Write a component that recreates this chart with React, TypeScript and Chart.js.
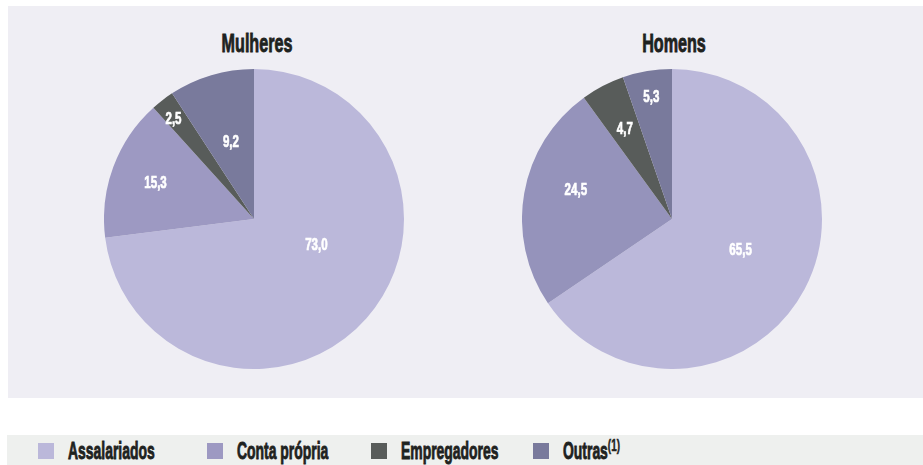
import React, { useEffect, useRef } from "react";
import { Chart, registerables } from "chart.js";

Chart.register(...registerables);

// ---- data ----
const categories = ["Assalariados", "Conta própria", "Empregadores", "Outras"];
const mulheresValues = [73.0, 15.3, 2.5, 9.2];
const homensValues = [65.5, 24.5, 4.7, 5.3];
const chartTitles = ["Mulheres", "Homens"];
const legendNote = "(1)";

// ---- styles ----
const sliceColors = ["#bbb8da", "#9d99c2", "#585c5a", "#797a9c"];
const sliceColorsHomens = ["#bbb8da", "#9593bb", "#585c5a", "#797a9c"];
const FONT = "'Liberation Sans', Arial, sans-serif";
const TEXT_DARK = "#1e2220";

const fmt = (v: number) => v.toFixed(1).replace(".", ",");

const sliceLabelPlugin = {
  id: "sliceLabels",
  afterDatasetsDraw(chart: any, _args: any, opts: any) {
    const ctx = chart.ctx as CanvasRenderingContext2D;
    const meta = chart.getDatasetMeta(0);
    const data = chart.data.datasets[0].data as number[];
    meta.data.forEach((arc: any, i: number) => {
      const p = arc.getProps(["x", "y", "startAngle", "endAngle", "outerRadius"], true);
      const mid = (p.startAngle + p.endAngle) / 2 + ((opts.shift?.[i] || 0) * Math.PI) / 180;
      const r = p.outerRadius * (opts.radius?.[i] ?? 0.6);
      const px = p.x + Math.cos(mid) * r;
      const py = p.y + Math.sin(mid) * r;
      ctx.save();
      ctx.translate(px, py);
      ctx.scale(0.68, 1);
      ctx.font = `bold 17px ${FONT}`;
      ctx.fillStyle = "#ffffff";
      ctx.strokeStyle = "#ffffff";
      ctx.lineWidth = 0.7;
      ctx.textAlign = "center";
      ctx.textBaseline = "middle";
      ctx.fillText(fmt(data[i]), 0, 1);
      ctx.strokeText(fmt(data[i]), 0, 1);
      ctx.restore();
    });
  },
};

function PieChart(props: {
  values: number[];
  colors: string[];
  labelRadius: number[];
  labelShift: number[];
  style: React.CSSProperties;
}) {
  const ref = useRef<HTMLCanvasElement | null>(null);
  useEffect(() => {
    if (!ref.current) return;
    const chart = new Chart(ref.current, {
      type: "pie",
      data: {
        labels: categories,
        datasets: [
          {
            data: props.values,
            backgroundColor: props.colors,
            borderWidth: 0,
            hoverOffset: 0,
            offset: 0,
          },
        ],
      },
      options: {
        responsive: false,
        animation: false,
        layout: { padding: 0 },
        events: [],
        plugins: {
          legend: { display: false },
          tooltip: { enabled: false },
          title: { display: false },
          sliceLabels: { radius: props.labelRadius, shift: props.labelShift },
        } as any,
      },
      plugins: [sliceLabelPlugin as any],
    });
    return () => chart.destroy();
  }, []);
  return <canvas ref={ref} width={300} height={300} style={{ position: "absolute", ...props.style }} />;
}

function Title({ text, cx }: { text: string; cx: number }) {
  return (
    <div
      style={{
        position: "absolute",
        left: cx,
        top: 30,
        fontFamily: FONT,
        fontWeight: "bold",
        fontSize: 26,
        lineHeight: "26px",
        color: TEXT_DARK,
        whiteSpace: "nowrap",
        WebkitTextStroke: `0.9px ${TEXT_DARK}`,
        transform: "translateX(-50%) scaleX(0.62)",
      }}
    >
      {text}
    </div>
  );
}

const legendX = [38, 207, 371, 533];

export default function App() {
  return (
    <div
      style={{
        position: "absolute",
        left: 0,
        top: 0,
        width: 923,
        height: 465,
        overflow: "hidden",
        background: "#ffffff",
      }}
    >
      <div
        style={{
          position: "absolute",
          left: 8,
          top: 6,
          width: 915,
          height: 392,
          background: "#efeef4",
        }}
      />
      <Title text={chartTitles[0]} cx={257} />
      <Title text={chartTitles[1]} cx={674} />
      <PieChart
        values={mulheresValues}
        colors={sliceColors}
        labelRadius={[0.45, 0.7, 0.86, 0.54]}
        labelShift={[-19, 0, -1, 0]}
        style={{ left: 104, top: 69 }}
      />
      <PieChart
        values={homensValues}
        colors={sliceColorsHomens}
        labelRadius={[0.5, 0.67, 0.68, 0.83]}
        labelShift={[-4, 7, 0, 0]}
        style={{ left: 522, top: 69 }}
      />
      <div
        style={{
          position: "absolute",
          left: 7,
          top: 435,
          width: 916,
          height: 30,
          background: "#eef0ee",
        }}
      />
      {categories.map((c, i) => (
        <React.Fragment key={c}>
          <div
            style={{
              position: "absolute",
              left: legendX[i],
              top: 443,
              width: 16,
              height: 16,
              background: sliceColors[i],
            }}
          />
          <div
            style={{
              position: "absolute",
              left: legendX[i] + 30,
              top: 439,
              fontFamily: FONT,
              fontWeight: "bold",
              fontSize: 24,
              lineHeight: "24px",
              color: TEXT_DARK,
              whiteSpace: "nowrap",
              WebkitTextStroke: `0.9px ${TEXT_DARK}`,
              transform: "scaleX(0.58)",
              transformOrigin: "left top",
            }}
          >
            {c}
            {i === categories.length - 1 ? (
              <span style={{ fontSize: 17, position: "relative", top: -8, WebkitTextStroke: "0.5px " + TEXT_DARK }}>
                {legendNote}
              </span>
            ) : null}
          </div>
        </React.Fragment>
      ))}
    </div>
  );
}
